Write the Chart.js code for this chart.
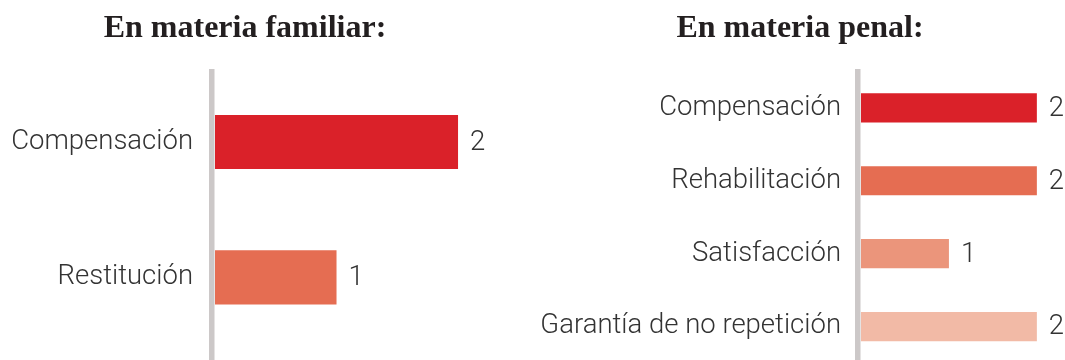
<!DOCTYPE html>
<html>
<head>
<meta charset="utf-8">
<script src="https://cdn.jsdelivr.net/npm/chart.js@4"></script>
<style>
  body { margin: 0; background: #fff; width: 1065px; height: 360px; overflow: hidden; position: relative; }
  .box { position: absolute; top: 0; height: 360px; overflow: hidden; }
  #boxFam { left: 0; width: 490px; }
  #boxPen { left: 535px; width: 530px; }
</style>
</head>
<body>
<div class="box" id="boxFam"><canvas id="famChart" width="490" height="360"></canvas></div>
<div class="box" id="boxPen"><canvas id="penChart" width="530" height="365"></canvas></div>
<script>
const famLabels = ["Compensación", "Restitución"];
const famValues = [2, 1];
const famColors = ["#DA2129", "#E56D52"];

const penLabels = ["Compensación", "Rehabilitación", "Satisfacción", "Garantía de no repetición"];
const penValues = [2, 2, 1, 2];
const penColors = ["#DA2129", "#E56D52", "#EB957B", "#F2BAA6"];

const textColor = "#333333";
const labelFont = { family: "Roboto", size: 27.5, weight: 300 };

// grey vertical rule + value next to each bar
const barExtras = {
  id: "barExtras",
  afterDatasetsDraw(chart) {
    const ctx = chart.ctx;
    const area = chart.chartArea;
    ctx.save();
    ctx.fillStyle = "#CCC8C8";
    ctx.fillRect(area.left - 6, 69, 5.5, chart.height - 69);
    ctx.fillStyle = textColor;
    ctx.font = "300 27.5px Roboto";
    ctx.textAlign = "left";
    ctx.textBaseline = "middle";
    const meta = chart.getDatasetMeta(0);
    const data = chart.data.datasets[0].data;
    meta.data.forEach((bar, i) => {
      ctx.fillText(String(data[i]), bar.x + 12, bar.y + 1);
    });
    ctx.restore();
  }
};

function makeChart(id, title, labels, values, colors, opt) {
  return new Chart(id, {
    type: "bar",
    data: {
      labels: labels,
      datasets: [{
        data: values,
        backgroundColor: colors,
        barPercentage: 0.4,
        categoryPercentage: 1,
      }],
    },
    options: {
      indexAxis: "y",
      responsive: false,
      animation: false,
      layout: { padding: { left: 0, right: 0, top: 0, bottom: opt.bottom } },
      scales: {
        x: { display: false, min: 0, max: opt.max },
        y: {
          afterFit: (s) => {
            s.width = opt.left;
            // labels sit in band centres, no extra room needed above/below
            s.paddingTop = 0;
            s.paddingBottom = 0;
          },
          grid: { display: false, drawTicks: false },
          border: { display: false },
          ticks: { color: textColor, font: labelFont, padding: opt.pad },
        },
      },
      plugins: {
        legend: { display: false },
        tooltip: { enabled: false },
        title: {
          display: true,
          text: title,
          color: "#231F20",
          font: { family: "Liberation Serif", size: 32, weight: "bold", lineHeight: 1.2 },
          padding: { top: 10, bottom: opt.titleGap },
        },
      },
    },
    plugins: [barExtras],
  });
}

makeChart("famChart", "En materia familiar:", famLabels, famValues, famColors,
  { max: 2.263, left: 215, pad: 22, bottom: 15, titleGap: 26 });
makeChart("penChart", "En materia penal:", penLabels, penValues, penColors,
  { max: 2.32, left: 326, pad: 20, bottom: 2, titleGap: 23 });
</script>
</body>
</html>
